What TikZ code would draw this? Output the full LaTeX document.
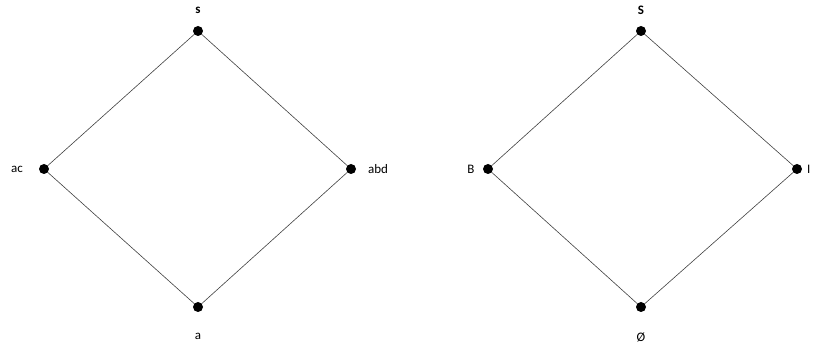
\documentclass[tikz,border=0pt]{standalone}
\usepackage{fontspec}
\setmainfont{Carlito}
\begin{document}
\begin{tikzpicture}[x=1pt,y=-1pt,
  dot/.style={circle,fill=black,inner sep=0pt,minimum size=10pt},
  lbl/.style={inner sep=0pt,font=\fontsize{13}{15}\selectfont},
  edge/.style={draw=black!75,line width=0.6pt}]
\useasboundingbox (0,0) rectangle (815,347);
\clip (0,0) rectangle (815,347);
% left lattice
\node[dot] (t1) at (198,31) {};
\node[dot] (l1) at (44,169) {};
\node[dot] (r1) at (351,169) {};
\node[dot] (b1) at (198,307) {};
\draw[edge] (t1) -- (l1) -- (b1) -- (r1) -- (t1);
\node[lbl,font=\fontsize{13}{15}\selectfont\bfseries] (ts1) at (198,10) {s};
\node[lbl] (ls1) at (17,169) {ac};
\node[lbl] (rs1) at (378,169) {abd};
\node[lbl] (bs1) at (198,336) {a};
% right lattice
\node[dot] (t2) at (641,31) {};
\node[dot] (l2) at (488,169) {};
\node[dot] (r2) at (797,169) {};
\node[dot] (b2) at (641,307) {};
\draw[edge] (t2) -- (l2) -- (b2) -- (r2) -- (t2);
\node[lbl,font=\fontsize{13}{15}\selectfont\bfseries] (ts2) at (641,10) {S};
\node[lbl] (ls2) at (471,169) {B};
\node[lbl,anchor=west] (rs2) at (807,169) {I};
\node[lbl] (bs2) at (641,337) {Ø};
\end{tikzpicture}
\end{document}
